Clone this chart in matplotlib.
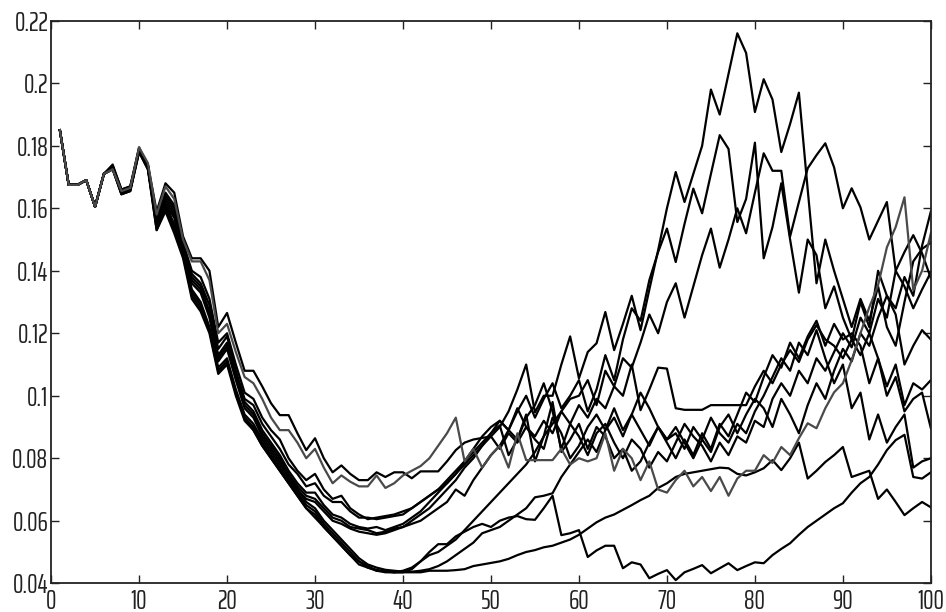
import matplotlib
matplotlib.use("Agg")
import matplotlib.pyplot as plt
import numpy as np

plt.rcParams['font.family'] = ['Agency FB', 'Saira ExtraCondensed', 'Saira Extra Condensed',
                               'Roboto Condensed', 'Oswald', 'DejaVu Sans']

# shared start (x = 1..6)
head = [0.185, 0.1675, 0.1675, 0.169, 0.1605, 0.171]

# each series below continues from x = 7 to x = 100
line_D = [0.1735, 0.166, 0.167, 0.1785, 0.174,
          0.159, 0.168, 0.165, 0.151, 0.144, 0.144, 0.140, 0.122, 0.1265,
          0.117, 0.108, 0.108, 0.103, 0.0976, 0.0938, 0.0938, 0.088, 0.0826, 0.0864,
          0.080, 0.0755, 0.0777, 0.075, 0.073, 0.073, 0.0755, 0.074, 0.0755, 0.0755,
          0.0736, 0.0758, 0.0758, 0.0758, 0.079, 0.0826, 0.085, 0.086, 0.0865, 0.087,
          0.083, 0.088, 0.085, 0.090, 0.087, 0.092, 0.088, 0.095, 0.091, 0.097,
          0.093, 0.099, 0.096, 0.103, 0.100, 0.110, 0.0954, 0.102, 0.109, 0.1087,
          0.096, 0.0955, 0.0955, 0.0955, 0.097, 0.097, 0.097, 0.097, 0.097, 0.103,
          0.108, 0.104, 0.110, 0.1146, 0.1108, 0.118, 0.1226, 0.118, 0.116, 0.112,
          0.118, 0.113, 0.120, 0.112, 0.103, 0.110, 0.097, 0.104, 0.102, 0.105]

line_G = [0.1725, 0.1655, 0.1665, 0.1795, 0.1745,
          0.158, 0.167, 0.163, 0.150, 0.143, 0.143, 0.137, 0.120, 0.123,
          0.114, 0.106, 0.104, 0.099, 0.093, 0.089, 0.089, 0.085, 0.080, 0.083,
          0.077, 0.072, 0.0745, 0.0725, 0.071, 0.071, 0.0745, 0.0705, 0.072, 0.0745,
          0.076, 0.0775, 0.080, 0.084, 0.088, 0.093, 0.079, 0.083, 0.077, 0.081,
          0.084, 0.077, 0.088, 0.0794, 0.0794, 0.0794, 0.0794, 0.083, 0.078, 0.080,
          0.079, 0.080, 0.088, 0.076, 0.083, 0.080, 0.073, 0.079, 0.070, 0.069,
          0.073, 0.076, 0.071, 0.074, 0.0695, 0.074, 0.068, 0.0735, 0.076, 0.076,
          0.081, 0.0785, 0.0836, 0.081, 0.0864, 0.0912, 0.0896, 0.096, 0.1011, 0.104,
          0.1114, 0.120, 0.1283, 0.1354, 0.1475, 0.154, 0.1635, 0.1338, 0.140, 0.152]

line_A = [0.173, 0.165, 0.166, 0.179, 0.173,
          0.157, 0.165, 0.161, 0.149, 0.140, 0.138, 0.131, 0.117, 0.120,
          0.110, 0.101, 0.099, 0.093, 0.089, 0.086, 0.080, 0.076, 0.073, 0.075,
          0.070, 0.067, 0.068, 0.064, 0.062, 0.0605, 0.061, 0.0615, 0.062, 0.063,
          0.064, 0.066, 0.068, 0.070, 0.072, 0.075, 0.078, 0.081, 0.084, 0.087,
          0.090, 0.095, 0.102, 0.110, 0.0947, 0.100, 0.100, 0.110, 0.119, 0.1056,
          0.114, 0.1168, 0.1268, 0.1146, 0.123, 0.132, 0.121, 0.134, 0.1466, 0.160,
          0.1716, 0.162, 0.171, 0.180, 0.198, 0.190, 0.203, 0.216, 0.2097, 0.1908,
          0.2013, 0.1948, 0.178, 0.187, 0.197, 0.166, 0.136, 0.150, 0.140, 0.131,
          0.122, 0.131, 0.124, 0.135, 0.122, 0.116, 0.130, 0.143, 0.147, 0.149]

line_H = [0.1725, 0.1645, 0.1655, 0.178, 0.1725,
          0.156, 0.164, 0.160, 0.148, 0.139, 0.136, 0.129, 0.115, 0.119,
          0.108, 0.099, 0.097, 0.091, 0.087, 0.083, 0.078, 0.075, 0.071, 0.072,
          0.068, 0.066, 0.066, 0.063, 0.061, 0.061, 0.0605, 0.061, 0.0615, 0.062,
          0.064, 0.066, 0.068, 0.070, 0.073, 0.076, 0.079, 0.082, 0.085, 0.088,
          0.0905, 0.081, 0.086, 0.094, 0.079, 0.087, 0.098, 0.082, 0.086, 0.091,
          0.083, 0.090, 0.087, 0.080, 0.083, 0.076, 0.079, 0.085, 0.090, 0.085,
          0.080, 0.086, 0.081, 0.088, 0.083, 0.091, 0.087, 0.094, 0.101, 0.098,
          0.106, 0.113, 0.109, 0.117, 0.112, 0.119, 0.124, 0.116, 0.123, 0.118,
          0.120, 0.116, 0.104, 0.112, 0.100, 0.106, 0.095, 0.099, 0.101, 0.0896]

line_B = [0.174, 0.166, 0.167, 0.1795, 0.1735,
          0.155, 0.162, 0.158, 0.147, 0.137, 0.134, 0.126, 0.112, 0.116,
          0.106, 0.097, 0.094, 0.088, 0.084, 0.080, 0.075, 0.071, 0.068, 0.067,
          0.064, 0.061, 0.060, 0.058, 0.0575, 0.057, 0.056, 0.0565, 0.0575, 0.058,
          0.060, 0.062, 0.064, 0.067, 0.070, 0.073, 0.077, 0.080, 0.084, 0.088,
          0.092, 0.089, 0.095, 0.100, 0.093, 0.099, 0.104, 0.096, 0.100, 0.105,
          0.095, 0.102, 0.113, 0.105, 0.118, 0.128, 0.124, 0.137, 0.146, 0.1535,
          0.1428, 0.155, 0.1663, 0.1584, 0.171, 0.1834, 0.179, 0.1556, 0.163, 0.181,
          0.144, 0.154, 0.168, 0.150, 0.133, 0.150, 0.145, 0.128, 0.135, 0.125,
          0.118, 0.130, 0.122, 0.140, 0.132, 0.128, 0.138, 0.132, 0.148, 0.159]

line_J = [0.1725, 0.165, 0.166, 0.1785, 0.1735,
          0.154, 0.161, 0.157, 0.146, 0.136, 0.133, 0.125, 0.111, 0.115,
          0.105, 0.096, 0.093, 0.087, 0.083, 0.079, 0.074, 0.070, 0.067, 0.066,
          0.063, 0.060, 0.059, 0.0575, 0.0565, 0.056, 0.0555, 0.056, 0.057, 0.058,
          0.059, 0.060, 0.062, 0.064, 0.066, 0.070, 0.068, 0.073, 0.077, 0.081,
          0.084, 0.089, 0.086, 0.093, 0.097, 0.104, 0.095, 0.083, 0.091, 0.087,
          0.081, 0.088, 0.091, 0.085, 0.080, 0.086, 0.083, 0.077, 0.082, 0.079,
          0.085, 0.091, 0.087, 0.084, 0.079, 0.085, 0.081, 0.087, 0.085, 0.092,
          0.090, 0.099, 0.104, 0.100, 0.108, 0.104, 0.112, 0.108, 0.114, 0.120,
          0.1155, 0.125, 0.120, 0.131, 0.125, 0.140, 0.135, 0.128, 0.134, 0.1395]

line_K = [0.173, 0.1655, 0.1665, 0.179, 0.174,
          0.155, 0.163, 0.159, 0.147, 0.138, 0.135, 0.127, 0.113, 0.117,
          0.107, 0.098, 0.095, 0.089, 0.085, 0.081, 0.076, 0.072, 0.069, 0.069,
          0.065, 0.062, 0.061, 0.059, 0.058, 0.0575, 0.058, 0.057, 0.058, 0.059,
          0.061, 0.063, 0.066, 0.069, 0.072, 0.075, 0.079, 0.083, 0.087, 0.090,
          0.092, 0.089, 0.096, 0.090, 0.086, 0.083, 0.093, 0.088, 0.080, 0.084,
          0.090, 0.094, 0.089, 0.096, 0.089, 0.094, 0.101, 0.096, 0.090, 0.086,
          0.090, 0.085, 0.080, 0.086, 0.082, 0.090, 0.094, 0.088, 0.094, 0.099,
          0.096, 0.090, 0.099, 0.094, 0.088, 0.097, 0.104, 0.099, 0.108, 0.115,
          0.111, 0.120, 0.116, 0.125, 0.132, 0.126, 0.110, 0.116, 0.121, 0.118]

line_C = [0.173, 0.165, 0.166, 0.1785, 0.173,
          0.153, 0.160, 0.154, 0.145, 0.133, 0.129, 0.121, 0.108, 0.111,
          0.101, 0.093, 0.089, 0.084, 0.080, 0.076, 0.072, 0.068, 0.064, 0.062,
          0.058, 0.055, 0.052, 0.049, 0.047, 0.045, 0.0443, 0.0437, 0.0435, 0.044,
          0.045, 0.047, 0.049, 0.050, 0.052, 0.054, 0.057, 0.060, 0.063, 0.066,
          0.069, 0.072, 0.075, 0.078, 0.082, 0.087, 0.091, 0.095, 0.099, 0.100,
          0.105, 0.097, 0.108, 0.103, 0.112, 0.109, 0.117, 0.126, 0.120, 0.130,
          0.136, 0.125, 0.135, 0.145, 0.1535, 0.141, 0.150, 0.160, 0.152, 0.165,
          0.1776, 0.172, 0.172, 0.151, 0.162, 0.1728, 0.177, 0.1808, 0.1731, 0.160,
          0.1664, 0.1603, 0.150, 0.156, 0.162, 0.140, 0.146, 0.1514, 0.1456, 0.1376]

line_E = [0.1725, 0.1645, 0.1655, 0.178, 0.1725,
          0.153, 0.159, 0.152, 0.144, 0.131, 0.127, 0.120, 0.107, 0.110,
          0.100, 0.092, 0.089, 0.084, 0.080, 0.076, 0.072, 0.068, 0.064, 0.061,
          0.058, 0.055, 0.052, 0.049, 0.046, 0.045, 0.044, 0.044, 0.0435, 0.0435,
          0.0435, 0.0435, 0.044, 0.044, 0.044, 0.0442, 0.0445, 0.0455, 0.046, 0.0465,
          0.047, 0.0478, 0.049, 0.050, 0.0506, 0.0515, 0.052, 0.053, 0.054, 0.0555,
          0.0575, 0.0595, 0.061, 0.062, 0.0635, 0.065, 0.0666, 0.068, 0.0705, 0.072,
          0.074, 0.075, 0.0755, 0.076, 0.0765, 0.077, 0.0768, 0.075, 0.0745, 0.0755,
          0.0768, 0.0794, 0.0762, 0.080, 0.085, 0.0735, 0.076, 0.0788, 0.081, 0.0836,
          0.074, 0.075, 0.076, 0.067, 0.070, 0.066, 0.0618, 0.064, 0.066, 0.0643]

line_F = [0.173, 0.1645, 0.166, 0.1785, 0.1735,
          0.154, 0.160, 0.153, 0.145, 0.132, 0.128, 0.121, 0.108, 0.111,
          0.101, 0.093, 0.090, 0.085, 0.081, 0.077, 0.073, 0.069, 0.065, 0.063,
          0.059, 0.056, 0.053, 0.050, 0.047, 0.0455, 0.044, 0.0435, 0.0435, 0.0435,
          0.0445, 0.047, 0.050, 0.0525, 0.0525, 0.055, 0.0565, 0.058, 0.059, 0.058,
          0.060, 0.061, 0.0615, 0.0605, 0.0603, 0.064, 0.068, 0.0554, 0.056, 0.057,
          0.0484, 0.0505, 0.052, 0.052, 0.0448, 0.0467, 0.046, 0.0416, 0.043, 0.0442,
          0.041, 0.0435, 0.0446, 0.0458, 0.0432, 0.0448, 0.0464, 0.0442, 0.0455, 0.0467,
          0.0464, 0.049, 0.051, 0.0528, 0.0555, 0.058, 0.060, 0.062, 0.064, 0.0656,
          0.069, 0.072, 0.074, 0.078, 0.0826, 0.0858, 0.0875, 0.074, 0.0735, 0.0755]

line_I = [0.1735, 0.1655, 0.1665, 0.179, 0.174,
          0.154, 0.161, 0.155, 0.146, 0.134, 0.130, 0.122, 0.109, 0.112,
          0.102, 0.094, 0.091, 0.086, 0.082, 0.078, 0.074, 0.070, 0.066, 0.064,
          0.060, 0.057, 0.054, 0.051, 0.048, 0.046, 0.045, 0.0443, 0.044, 0.0437,
          0.0437, 0.044, 0.0445, 0.0455, 0.047, 0.049, 0.051, 0.053, 0.056, 0.057,
          0.058, 0.060, 0.062, 0.064, 0.0675, 0.068, 0.0688, 0.074, 0.078, 0.082,
          0.086, 0.082, 0.089, 0.093, 0.087, 0.094, 0.089, 0.084, 0.090, 0.086,
          0.088, 0.083, 0.090, 0.086, 0.093, 0.088, 0.085, 0.091, 0.088, 0.095,
          0.100, 0.106, 0.112, 0.108, 0.117, 0.113, 0.121, 0.112, 0.104, 0.110,
          0.096, 0.101, 0.086, 0.094, 0.085, 0.090, 0.094, 0.077, 0.079, 0.080]

black_series = [line_A, line_B, line_C, line_D, line_H, line_J, line_K,
                line_E, line_F, line_I]
gray_series = [line_G]

x_ticks = list(range(0, 101, 10))
y_ticks = [0.04, 0.06, 0.08, 0.10, 0.12, 0.14, 0.16, 0.18, 0.20, 0.22]
y_tick_labels = ['0.04', '0.06', '0.08', '0.1', '0.12', '0.14', '0.16', '0.18', '0.2', '0.22']

fig = plt.figure(figsize=(9.46, 6.12), dpi=100)
ax = fig.add_axes([0.054, 0.047, 0.930, 0.919])

for s in black_series:
    vals = head + s
    ax.plot(np.arange(1, len(vals) + 1), vals, color='#000000', lw=1.6)
for s in gray_series:
    vals = head + s
    ax.plot(np.arange(1, len(vals) + 1), vals, color='#4a4a4a', lw=1.6)

ax.set_xlim(0, 100)
ax.set_ylim(0.04, 0.22)
ax.set_xticks(x_ticks)
ax.set_xticklabels([str(v) for v in x_ticks])
ax.set_yticks(y_ticks)
ax.set_yticklabels(y_tick_labels)
ax.tick_params(direction='in', top=True, right=True, length=6, width=1,
               labelsize=19, colors='#222222')
ax.tick_params(axis='y', pad=2)
ax.tick_params(axis='x', pad=4)
for sp in ax.spines.values():
    sp.set_linewidth(1.3)
    sp.set_color('#222222')

fig.savefig('out.png', dpi=100, facecolor='white')
